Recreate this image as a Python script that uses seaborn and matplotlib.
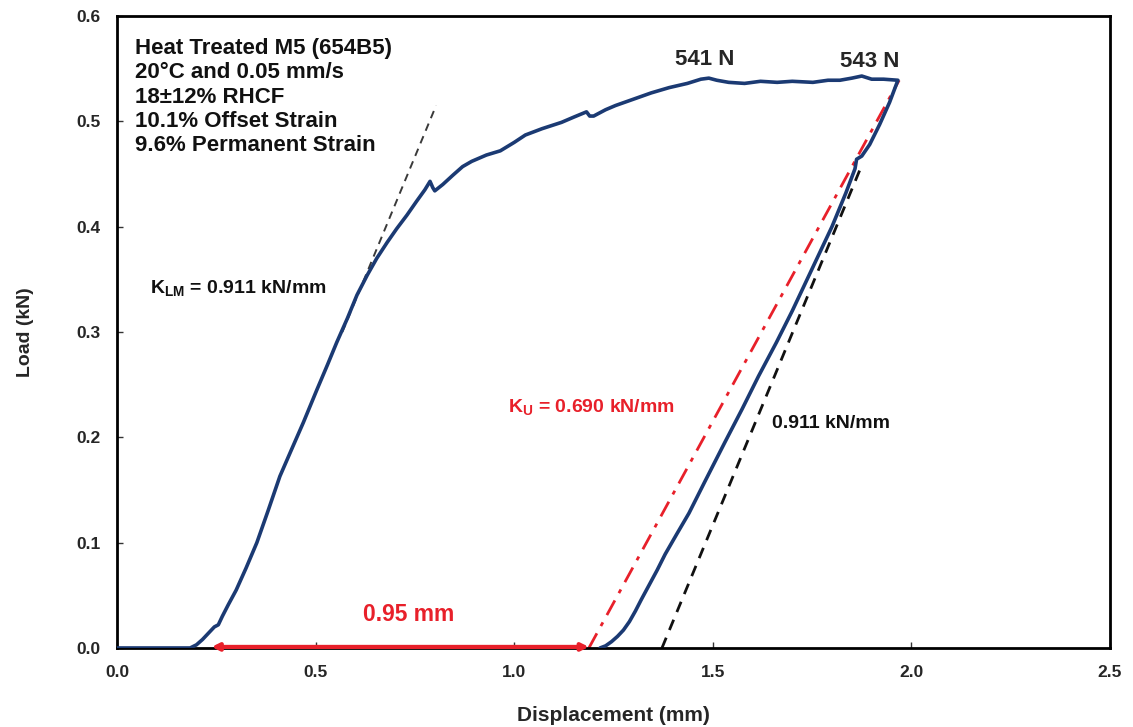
import numpy as np
import pandas as pd
import matplotlib
matplotlib.use("Agg")
import matplotlib.pyplot as plt
import seaborn as sns

# Load-displacement record: loading branch (displacement mm, load kN)
load_disp = [0.00, 0.10, 0.184, 0.20, 0.215, 0.23, 0.245, 0.255, 0.265, 0.28,
             0.30, 0.325, 0.352, 0.38, 0.41, 0.44, 0.469, 0.503, 0.53, 0.553,
             0.58, 0.604, 0.63, 0.654, 0.68, 0.704, 0.73, 0.754, 0.775, 0.788,
             0.795, 0.80, 0.82, 0.846, 0.87, 0.893, 0.93, 0.965, 1.00, 1.028,
             1.07, 1.119, 1.15, 1.182, 1.19, 1.20, 1.23, 1.255, 1.30, 1.345,
             1.39, 1.436, 1.47, 1.49, 1.51, 1.54, 1.58, 1.62, 1.662, 1.70,
             1.752, 1.79, 1.82, 1.85, 1.875, 1.90, 1.93, 1.966]
load_force = [0.0, 0.0, 0.0, 0.003, 0.008, 0.014, 0.020, 0.022, 0.030, 0.041,
              0.055, 0.076, 0.100, 0.130, 0.163, 0.189, 0.214, 0.245, 0.269, 0.290,
              0.313, 0.335, 0.354, 0.370, 0.385, 0.398, 0.411, 0.424, 0.435, 0.443,
              0.437, 0.434, 0.440, 0.449, 0.457, 0.462, 0.468, 0.472, 0.480, 0.487,
              0.493, 0.499, 0.504, 0.509, 0.505, 0.505, 0.511, 0.515, 0.521, 0.527,
              0.532, 0.536, 0.540, 0.541, 0.539, 0.537, 0.536, 0.538, 0.537, 0.538,
              0.537, 0.539, 0.539, 0.541, 0.543, 0.540, 0.540, 0.539]

# Unloading branch
unload_disp = [1.966, 1.945, 1.92, 1.895, 1.875, 1.862, 1.858, 1.835, 1.80, 1.75,
               1.70, 1.66, 1.615, 1.574, 1.53, 1.48, 1.44, 1.409, 1.38, 1.36,
               1.34, 1.32, 1.305, 1.29, 1.275, 1.26, 1.245, 1.23, 1.216]
unload_force = [0.539, 0.518, 0.497, 0.478, 0.467, 0.464, 0.455, 0.432, 0.400, 0.360,
                0.320, 0.290, 0.258, 0.227, 0.195, 0.158, 0.128, 0.108, 0.089, 0.074,
                0.060, 0.046, 0.035, 0.025, 0.017, 0.011, 0.006, 0.002, 0.0]

# Stiffness fits (kN/mm) and offsets (mm)
k_lm = 0.911
k_u = 0.690
offset_disp = 0.95
toe_origin = 0.238
elastic_origin = 1.372
peak_labels = ["541 N", "543 N"]

info_lines = ["Heat Treated M5 (654B5)", "20°C and 0.05 mm/s", "18±12% RHCF",
              "10.1% Offset Strain", "9.6% Permanent Strain"]

x_ticks = [0.0, 0.5, 1.0, 1.5, 2.0, 2.5]
y_ticks = [0.0, 0.1, 0.2, 0.3, 0.4, 0.5, 0.6]

sns.set_theme(style="white")
plt.rcParams["font.family"] = ["Liberation Sans", "DejaVu Sans"]
plt.rcParams["font.weight"] = "bold"
plt.rcParams["mathtext.fontset"] = "custom"
plt.rcParams["mathtext.rm"] = "Liberation Sans:bold"
plt.rcParams["mathtext.bf"] = "Liberation Sans:bold"
plt.rcParams["mathtext.it"] = "Liberation Sans:bold"

curve = pd.DataFrame({
    "disp": load_disp + unload_disp,
    "load": load_force + unload_force,
})

fig = plt.figure(figsize=(11.33, 7.27), dpi=100)
ax = fig.add_axes([0.1033, 0.1087, 0.8764, 0.8693])

navy = "#1B3A73"
red = "#E8202A"

sns.lineplot(data=curve, x="disp", y="load", sort=False, estimator=None,
             color=navy, lw=2.6, ax=ax, zorder=3)

# Loading tangent (K_LM), only drawn above the lower linear part
y_tan = np.array([0.30, 0.515])
ax.plot(toe_origin + y_tan / k_lm, y_tan, ls=(0, (4, 3)), color="#3a3a3a", lw=1.4, zorder=2)

# Unloading secant (K_U) through the end point
end_y = unload_force[0]
u_origin = toe_origin + offset_disp
ax.plot([u_origin, u_origin + end_y / k_u], [0, end_y], color=red, lw=2.0,
        ls=(0, (6, 3, 1.5, 3)), zorder=2)

# Elastic unloading line with loading stiffness
y_el = np.array([0.0, 0.46])
ax.plot(elastic_origin + y_el / k_lm, y_el, ls=(0, (4, 3)), color="#111111", lw=2.0, zorder=2)

# Offset displacement arrow
ax.annotate("", xy=(toe_origin, 0.001), xytext=(u_origin, 0.001),
            arrowprops=dict(arrowstyle="<|-|>", color=red, lw=3, mutation_scale=10,
                            shrinkA=0, shrinkB=0), zorder=4)

ax.text(0.045, 0.579, "\n".join(info_lines), ha="left", va="top", fontsize=16,
        fontweight="bold", linespacing=1.2, color="#111111")
ax.text(1.48, 0.559, peak_labels[0], ha="center", va="center", fontsize=16, fontweight="bold")
ax.text(1.896, 0.557, peak_labels[1], ha="center", va="center", fontsize=16, fontweight="bold")
ax.text(0.083, 0.342, r"K$_{\mathrm{LM}}$" + f" = {k_lm:.3f} kN/mm", ha="left", va="center",
        fontsize=14, fontweight="bold", color="#111111")
ax.text(0.984, 0.229, r"K$_{\mathrm{U}}$" + f" = {k_u:.3f} kN/mm", ha="left", va="center",
        fontsize=14, fontweight="bold", color=red)
ax.text(1.649, 0.213, f"{k_lm:.3f} kN/mm", ha="left", va="center",
        fontsize=14, fontweight="bold", color="#111111")
ax.text(0.733, 0.032, f"{offset_disp:.2f} mm", ha="center", va="center",
        fontsize=16.5, fontweight="bold", color=red)

ax.set_xlim(0, 2.5)
ax.set_ylim(0, 0.6)
ax.set_xticks(x_ticks)
ax.set_yticks(y_ticks)
ax.set_xticklabels([f"{t:.1f}" for t in x_ticks], fontsize=12.5, fontweight="bold")
ax.set_yticklabels([f"{t:.1f}" for t in y_ticks], fontsize=12.5, fontweight="bold")
ax.tick_params(direction="in", length=4, width=1, color="#333333",
               bottom=True, left=True)
ax.tick_params(axis="x", pad=12)
ax.tick_params(axis="y", pad=12)
ax.set_xlabel("Displacement (mm)", fontsize=15, fontweight="bold", labelpad=19)
ax.set_ylabel("Load (kN)", fontsize=14, fontweight="bold", labelpad=30)
for sp in ax.spines.values():
    sp.set_visible(True)
    sp.set_color("black")
    sp.set_linewidth(2)

fig.savefig("out.png", dpi=100, facecolor="white")
